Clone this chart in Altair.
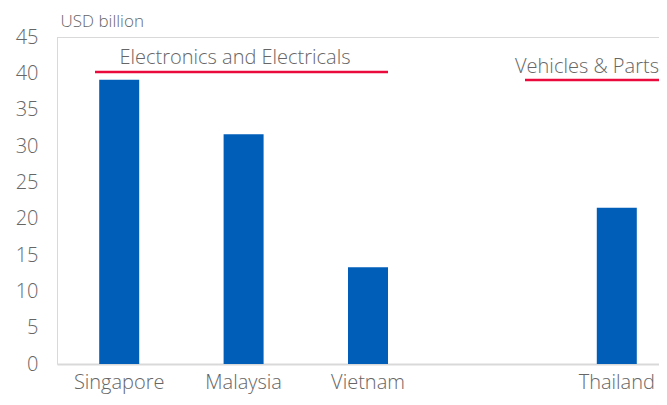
import altair as alt
import pandas as pd

countries = ["Singapore", "Malaysia", "Vietnam", " ", "Thailand"]
values = [39.1, 31.6, 13.3, None, 21.5]

df = pd.DataFrame({"country": countries, "value": values})

ann_text = ["Electronics and Electricals", "Vehicles & Parts"]

FONT = "Open Sans"
GRAY = "#666666"
BLUE = "#005EB8"
RED = "#EA0A3C"
FRAME = "#d9d9d9"

bars = alt.Chart(df).mark_bar(color=BLUE, size=40).encode(
    x=alt.X("country:N", sort=countries, title=None,
            scale=alt.Scale(paddingInner=0, paddingOuter=0, range=[0, 622]),
            axis=alt.Axis(labelAngle=0, labelFontSize=20, labelColor=GRAY, labelFont=FONT,
                          labelFontWeight=300, labelBaseline="alphabetic",
                          ticks=False, labelPadding=24, domainColor=FRAME, domainWidth=2)),
    y=alt.Y("value:Q", title="USD billion",
            scale=alt.Scale(domain=[0, 45], nice=False),
            axis=alt.Axis(values=list(range(0, 50, 5)), grid=False, ticks=False, domain=False,
                          labelFontSize=20, labelColor=GRAY, labelFont=FONT, labelFontWeight=300,
                          labelPadding=19,
                          titleAngle=0, titleAnchor="end", titleAlign="left", titleBaseline="alphabetic",
                          titleX=3, titleY=-11, titleFontSize=17, titleFontWeight=300,
                          titleColor=GRAY, titleFont=FONT)),
)

frame_top = alt.Chart(pd.DataFrame({"k": [0]})).mark_rule(color=FRAME, strokeWidth=1).encode(
    x=alt.value(0), x2=alt.value(622), y=alt.value(0.5))
frame_left = alt.Chart(pd.DataFrame({"k": [0]})).mark_rule(color=FRAME, strokeWidth=1).encode(
    x=alt.value(0.5), y=alt.value(0), y2=alt.value(327))

t1 = alt.Chart(pd.DataFrame({"t": [ann_text[0]]})).mark_text(
    fontSize=20, font=FONT, fontWeight=300, color=GRAY, align="center", baseline="alphabetic"
).encode(text="t:N", x=alt.value(178), y=alt.value(27))

l1 = alt.Chart(pd.DataFrame({"t": [ann_text[0]]})).mark_rule(color=RED, strokeWidth=2.5).encode(
    x=alt.value(38), x2=alt.value(331), y=alt.value(35))

t2 = alt.Chart(pd.DataFrame({"t": [ann_text[1]]})).mark_text(
    fontSize=20, font=FONT, fontWeight=300, color=GRAY, align="center", baseline="alphabetic"
).encode(text="t:N", x=alt.value(530), y=alt.value(36))

l2 = alt.Chart(pd.DataFrame({"t": [ann_text[1]]})).mark_rule(color=RED, strokeWidth=2.5).encode(
    x=alt.value(468), x2=alt.value(605), y=alt.value(43))

chart = alt.layer(frame_top, frame_left, bars, l1, t1, l2, t2).properties(
    width=602, height=327,
    autosize=alt.AutoSizeParams(type="none"),
    padding={"left": 49, "top": 29, "right": 0, "bottom": 33},
).configure_view(stroke=None).configure(background="white")

chart.save("out.html", embed_options={"renderer": "svg", "actions": False})
